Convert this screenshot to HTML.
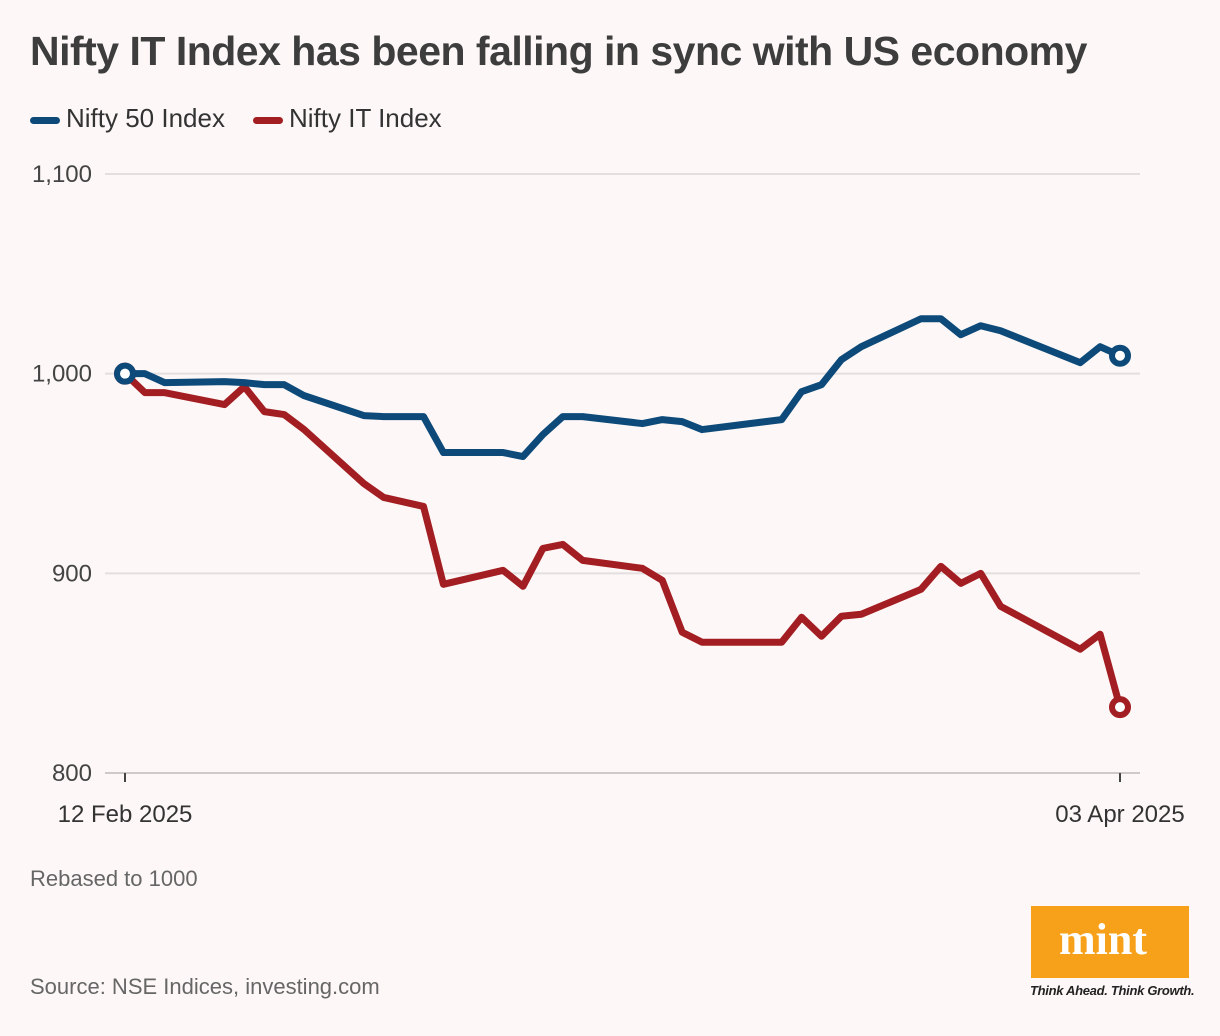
<!DOCTYPE html>
<html><head><meta charset="utf-8"><style>
body{margin:0;background:#fdf8f7;font-family:"Liberation Sans",sans-serif;}
#wrap{position:relative;width:1220px;height:1036px;overflow:hidden;background:#fdf8f7;}
.t{position:absolute;white-space:nowrap;}
</style></head><body>
<div id="wrap">
<div class="t" style="left:30px;top:28px;font-size:41px;font-weight:bold;color:#3d3d3d;letter-spacing:-0.5px;">Nifty IT Index has been falling in sync with US economy</div>
<div class="t" style="left:30px;top:103px;font-size:26px;color:#333;"><span style="display:inline-block;width:30px;height:7px;border-radius:4px;background:#0d4a7a;vertical-align:middle;margin-right:6px;"></span>Nifty 50 Index</div>
<div class="t" style="left:253px;top:103px;font-size:26px;color:#333;"><span style="display:inline-block;width:30px;height:7px;border-radius:4px;background:#a31e22;vertical-align:middle;margin-right:6px;"></span>Nifty IT Index</div>
<svg id="chart" width="1220" height="1036" style="position:absolute;left:0;top:0"></svg>
<div class="t" style="left:30px;top:866px;font-size:22px;color:#666;">Rebased to 1000</div>
<div class="t" style="left:30px;top:974px;font-size:22px;color:#666;">Source: NSE Indices, investing.com</div>
<div style="position:absolute;left:1031px;top:906px;width:158px;height:72px;background:#f7a11a;"><div class="t" style="left:28px;top:8px;font-family:'Liberation Serif',serif;font-weight:bold;font-size:44px;color:#fff;">mint</div></div>
<div class="t" style="left:1030px;top:983px;font-size:13px;font-style:italic;font-weight:bold;color:#222;letter-spacing:-0.3px;">Think Ahead. Think Growth.</div>
</div>
<script>
const days=[0,1,2,5,6,7,8,9,12,13,15,16,19,20,21,22,23,26,27,28,29,33,34,35,36,37,40,41,42,43,44,48,49,50];
const nifty50=[1000,1000,995.5,996,995.5,994.5,994.5,989,979,978.5,978.5,960.5,960.5,958.5,969.5,978.5,978.5,975,977,976,972,977,991,994.5,1007,1013.5,1027.5,1027.5,1019.5,1024,1021.5,1005.5,1013.5,1009];
const niftyIT=[1000,990.5,990.5,984.5,993.5,981,979.5,972,945,938,933.5,894.5,901.5,893.5,912.5,914.5,906.5,902.5,896.5,870.5,865.5,865.5,878,868.5,878.5,879.5,892,903.5,895,900,883.5,862,869.5,833];
const yTicks=[800,900,1000,1100];
const yTickLabels=["800","900","1,000","1,100"];
const xLabels=["12 Feb 2025","03 Apr 2025"];
const X0=125,X1=1120,Y0=773,Y1=174;
const xs=d=>X0+(d-days[0])/(days[days.length-1]-days[0])*(X1-X0);
const ys=v=>Y0-(v-800)/(1100-800)*(Y0-Y1);
const svg=document.getElementById('chart');
const NS='http://www.w3.org/2000/svg';
function mk(t,a){const e=document.createElementNS(NS,t);for(const k in a)e.setAttribute(k,a[k]);svg.appendChild(e);return e;}
yTicks.forEach((v,i)=>{
 const l=mk('line',{x1:105,x2:1140,y1:ys(v),y2:ys(v),stroke:i==0?'#cfcaca':'#e3dfdf','stroke-width':2});
 
 
 const t=mk('text',{x:92,y:ys(v)+8,'text-anchor':'end','font-size':24,fill:'#444','font-family':'Liberation Sans, sans-serif'});
 t.textContent=yTickLabels[i];
 
 
});
[days[0],days[days.length-1]].forEach((d,i)=>{
 const l=mk('line',{x1:xs(d),x2:xs(d),y1:773,y2:782,stroke:'#444','stroke-width':2});
 
 
 const t=mk('text',{x:xs(d),y:822,'text-anchor':'middle','font-size':24,fill:'#333','font-family':'Liberation Sans, sans-serif'});
 t.textContent=xLabels[i];
 
 
});
function series(vals,col,name){
 const p=mk('polyline',{points:days.map((d,i)=>xs(d)+','+ys(vals[i])).join(' '),fill:'none',stroke:col,'stroke-width':7,'stroke-linejoin':'round','stroke-linecap':'round'});
 
 
 [0,vals.length-1].forEach(i=>{
  const c=mk('circle',{cx:xs(days[i]),cy:ys(vals[i]),r:8,fill:'#fff',stroke:col,'stroke-width':6});
  
  
 });
}
series(niftyIT,'#a31e22','nifty-it');
series(nifty50,'#0d4a7a','nifty-50');
</script>
</body></html>
